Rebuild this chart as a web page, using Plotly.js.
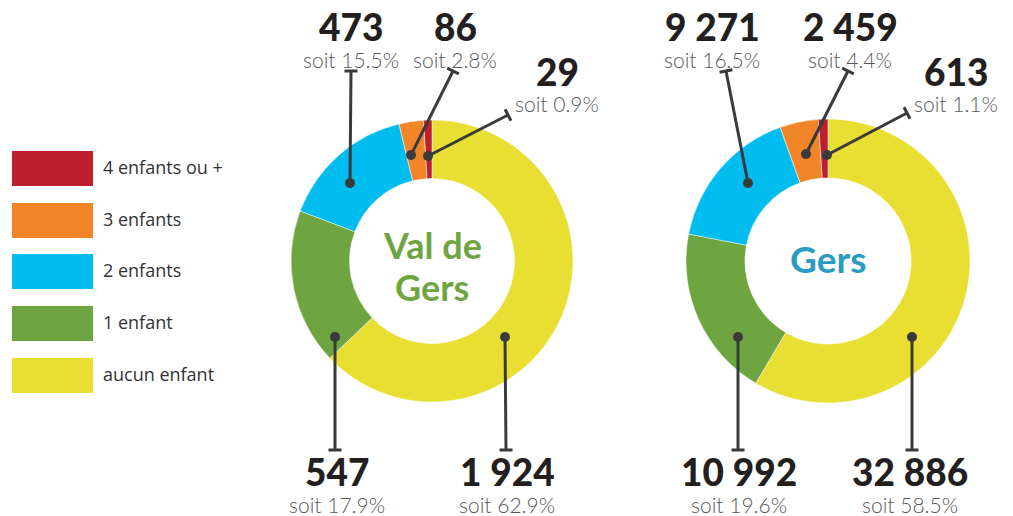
<!DOCTYPE html>
<html>
<head>
<meta charset="utf-8">
<script src="https://cdn.plot.ly/plotly-3.0.1.min.js"></script>
<style>html,body{margin:0;padding:0;background:#fff;}#chart{width:1013px;height:516px;}</style>
</head>
<body>
<div id="chart"></div>
<script>
// ---- data ----
const categories = ['aucun enfant', '1 enfant', '2 enfants', '3 enfants', '4 enfants ou +'];
const colors = ['#E8DF32', '#6FA541', '#00BCEF', '#F28528', '#BE1E2D'];
const valDeGers = [1924, 547, 473, 86, 29];
const valDeGersPct = [62.9, 17.9, 15.5, 2.8, 0.9];
const gers = [32886, 10992, 9271, 2459, 613];
const gersPct = [58.5, 19.6, 16.5, 4.4, 1.1];
const chartNames = ['Val de Gers', 'Gers'];

// ---- layout config (pixel positions) ----
const W = 1013, H = 516;
const donuts = [
  {cx: 432, cy: 261, r: 141, nameColor: '#6FA541', nameSize: 36, nameLines: [['Val de', 245], ['Gers', 287]]},
  {cx: 828, cy: 261, r: 142, nameColor: '#2A9CC4', nameSize: 37, nameLines: [['Gers', 258]]}
];
// per donut, per category: dot, cap end, label center (number y, soit y)
const callouts = [
  [
    {dot: [505, 337], cap: [506, 450], lx: 507, ny: 471, sy: 504},
    {dot: [335, 337], cap: [335, 450], lx: 337, ny: 471, sy: 504},
    {dot: [350, 183], cap: [351, 71], lx: 351, ny: 26, sy: 59},
    {dot: [411, 155], cap: [453, 71], lx: 455, ny: 26, sy: 59},
    {dot: [428, 156], cap: [508, 115], lx: 557, ny: 71, sy: 103}
  ],
  [
    {dot: [912, 337], cap: [912, 450], lx: 910, ny: 471, sy: 504},
    {dot: [738, 337], cap: [738, 450], lx: 739, ny: 471, sy: 504},
    {dot: [748, 183], cap: [726, 71], lx: 712, ny: 26, sy: 59},
    {dot: [806, 154], cap: [848, 71], lx: 850, ny: 26, sy: 59},
    {dot: [827, 155], cap: [907, 113], lx: 956, ny: 71, sy: 103}
  ]
];

function fmt(n) { return String(n).replace(/\B(?=(\d{3})+(?!\d))/g, '\u00A0'); }

const series = [valDeGers, gers];
const pcts = [valDeGersPct, gersPct];

const traces = donuts.map((d, i) => ({
  type: 'pie',
  values: series[i],
  labels: categories,
  marker: {colors: colors, line: {color: '#ffffff', width: 0.5}},
  sort: false,
  direction: 'clockwise',
  rotation: 0,
  hole: 0.585,
  textinfo: 'none',
  hoverinfo: 'label+value+percent',
  showlegend: false,
  domain: {
    x: [(d.cx - d.r) / W, (d.cx + d.r) / W],
    y: [(H - d.cy - d.r) / H, (H - d.cy + d.r) / H]
  },
  name: chartNames[i]
}));

const shapes = [];
const annotations = [];
const lineColor = '#3A3A3C';

// legend
const legendTop = [151, 203, 254, 306, 358];
for (let k = 0; k < categories.length; k++) {
  const ci = categories.length - 1 - k;
  shapes.push({type: 'rect', xref: 'x', yref: 'y', x0: 12, x1: 93, y0: legendTop[k], y1: legendTop[k] + 35,
    fillcolor: colors[ci], line: {width: 0}});
  annotations.push({xref: 'x', yref: 'y', x: 101, y: legendTop[k] + 16, xanchor: 'left', yanchor: 'middle',
    text: categories[ci], showarrow: false, font: {family: 'Open Sans, sans-serif', size: 18, color: '#333333'}});
}

// callouts
donuts.forEach((d, i) => {
  callouts[i].forEach((c, k) => {
    shapes.push({type: 'line', xref: 'x', yref: 'y', x0: c.dot[0], y0: c.dot[1], x1: c.cap[0], y1: c.cap[1],
      line: {color: lineColor, width: 3}});
    const dx = c.cap[0] - c.dot[0], dy = c.cap[1] - c.dot[1];
    const len = Math.sqrt(dx * dx + dy * dy);
    const px = -dy / len * 6.5, py = dx / len * 6.5;
    shapes.push({type: 'line', xref: 'x', yref: 'y', x0: c.cap[0] - px, y0: c.cap[1] - py, x1: c.cap[0] + px, y1: c.cap[1] + py,
      line: {color: lineColor, width: 3}});
    shapes.push({type: 'circle', xref: 'x', yref: 'y', x0: c.dot[0] - 5, x1: c.dot[0] + 5, y0: c.dot[1] - 5, y1: c.dot[1] + 5,
      fillcolor: lineColor, line: {width: 0}});
    annotations.push({xref: 'x', yref: 'y', x: c.lx, y: c.ny, xanchor: 'center', yanchor: 'middle', showarrow: false,
      text: fmt(series[i][k]), font: {family: 'Lato, sans-serif', size: 37, weight: 900, color: '#231F20'}});
    annotations.push({xref: 'x', yref: 'y', x: c.lx, y: c.sy, xanchor: 'center', yanchor: 'middle', showarrow: false,
      text: 'soit ' + pcts[i][k].toFixed(1) + '%', font: {family: 'Lato, sans-serif', size: 21, weight: 300, color: '#58595B'}});
  });
  d.nameLines.forEach(([t, y]) => {
    annotations.push({xref: 'x', yref: 'y', x: d.cx, y: y, xanchor: 'center', yanchor: 'middle', showarrow: false,
      text: t, font: {family: 'Lato, sans-serif', size: d.nameSize, weight: 700, color: d.nameColor}});
  });
});

const layout = {
  width: W, height: H,
  margin: {l: 0, r: 0, t: 0, b: 0},
  paper_bgcolor: '#ffffff', plot_bgcolor: 'rgba(0,0,0,0)',
  xaxis: {range: [0, W], visible: false, fixedrange: true},
  yaxis: {range: [H, 0], visible: false, fixedrange: true},
  showlegend: false,
  shapes: shapes,
  annotations: annotations
};

Plotly.newPlot('chart', traces, layout, {displayModeBar: false, staticPlot: true});
</script>
</body>
</html>
